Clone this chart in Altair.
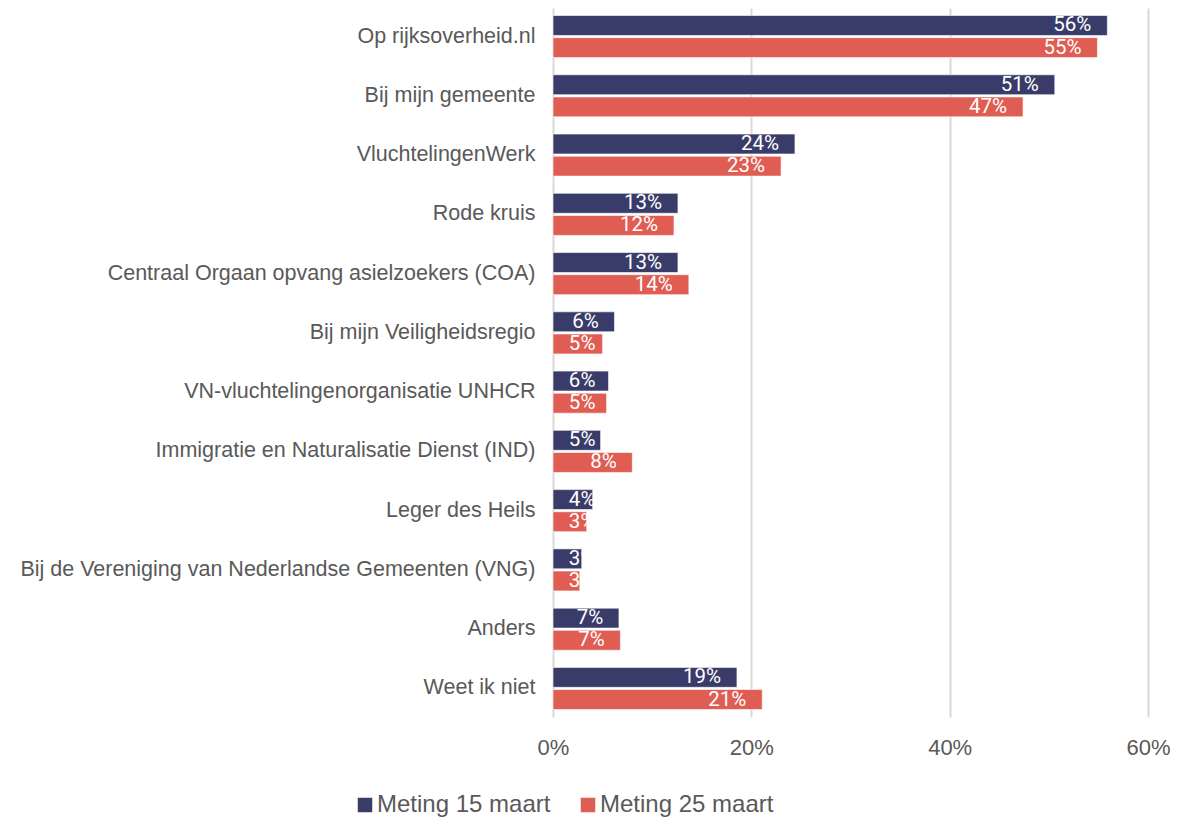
import altair as alt
import pandas as pd

categories = [
    "Op rijksoverheid.nl",
    "Bij mijn gemeente",
    "VluchtelingenWerk",
    "Rode kruis",
    "Centraal Orgaan opvang asielzoekers (COA)",
    "Bij mijn Veiligheidsregio",
    "VN-vluchtelingenorganisatie UNHCR",
    "Immigratie en Naturalisatie Dienst (IND)",
    "Leger des Heils",
    "Bij de Vereniging van Nederlandse Gemeenten (VNG)",
    "Anders",
    "Weet ik niet",
]
series = ["Meting 15 maart", "Meting 25 maart"]
meting_15 = [55.9, 50.6, 24.4, 12.6, 12.6, 6.2, 5.6, 4.8, 4.0, 2.9, 6.65, 18.55]
meting_25 = [54.9, 47.4, 23.0, 12.2, 13.7, 5.0, 5.4, 8.0, 3.4, 2.7, 6.8, 21.1]
x_ticks = [0, 20, 40, 60]
colors = ["#393c69", "#df5d52"]

rows = []
for c, a, b in zip(categories, meting_15, meting_25):
    rows.append({"cat": c, "series": series[0], "v": a})
    rows.append({"cat": c, "series": series[1], "v": b})
df = pd.DataFrame(rows)

y_enc = alt.Y(
    "cat:N",
    sort=categories,
    title=None,
    scale=alt.Scale(paddingInner=0.29, paddingOuter=0.127),
    axis=alt.Axis(
        ticks=False,
        domain=False,
        labelPadding=18,
        labelFontSize=21.5,
        labelFont="Liberation Sans",
        labelColor="#595959",
        labelLimit=1000,
        grid=False,
    ),
)
yoff = alt.YOffset("series:N", sort=series, scale=alt.Scale(paddingInner=0.1))
x_scale = alt.Scale(domain=[0, 60], nice=False)

bars = alt.Chart(df).mark_bar(stroke="#ffffff", strokeWidth=1, strokeOpacity=0.6).encode(
    x=alt.X(
        "v:Q",
        scale=x_scale,
        title=None,
        axis=alt.Axis(
            values=x_ticks,
            labelExpr="datum.value + '%'",
            ticks=False,
            domain=False,
            grid=True,
            gridColor="#d9d9d9",
            gridWidth=2,
            labelPadding=20,
            labelFontSize=22,
            labelFlush=False,
            labelFont="Liberation Sans",
            labelColor="#595959",
        ),
    ),
    y=y_enc,
    yOffset=yoff,
    color=alt.Color(
        "series:N",
        sort=series,
        scale=alt.Scale(domain=series, range=colors),
        legend=alt.Legend(
            title=None,
            orient="none",
            direction="horizontal",
            legendX=-200,
            legendY=785,
            symbolType="square",
            symbolSize=210,
            symbolStrokeWidth=0,
            labelFontSize=24,
            labelFont="Liberation Sans",
            labelColor="#595959",
            labelLimit=600,
            labelOffset=0,
            columnPadding=25,
        ),
    ),
)

labels = (
    alt.Chart(df)
    .transform_calculate(
        lab="format(round(datum.v), 'd') + '%'",
        w="length(format(round(datum.v), 'd') + '%') >= 3 ? 3.85 : 2.65",
    )
    .transform_calculate(lx="max(datum.v - 1.6 - datum.w, 1.6)")
    .mark_text(align="left", baseline="middle", color="#ffffff", fontSize=20.5, font="Roboto")
    .encode(
        x=alt.X("lx:Q", scale=x_scale),
        y=y_enc,
        yOffset=yoff,
        text="lab:N",
    )
)

chart = (
    alt.layer(bars, labels)
    .properties(
        width=595,
        height=709,
        autosize=alt.AutoSizeParams(type="none"),
        padding={"left": 545, "top": 0, "right": 35, "bottom": 100},
    )
    .configure_view(stroke=None)
)

chart.save("out.html", embed_options={"renderer": "svg", "actions": False})
